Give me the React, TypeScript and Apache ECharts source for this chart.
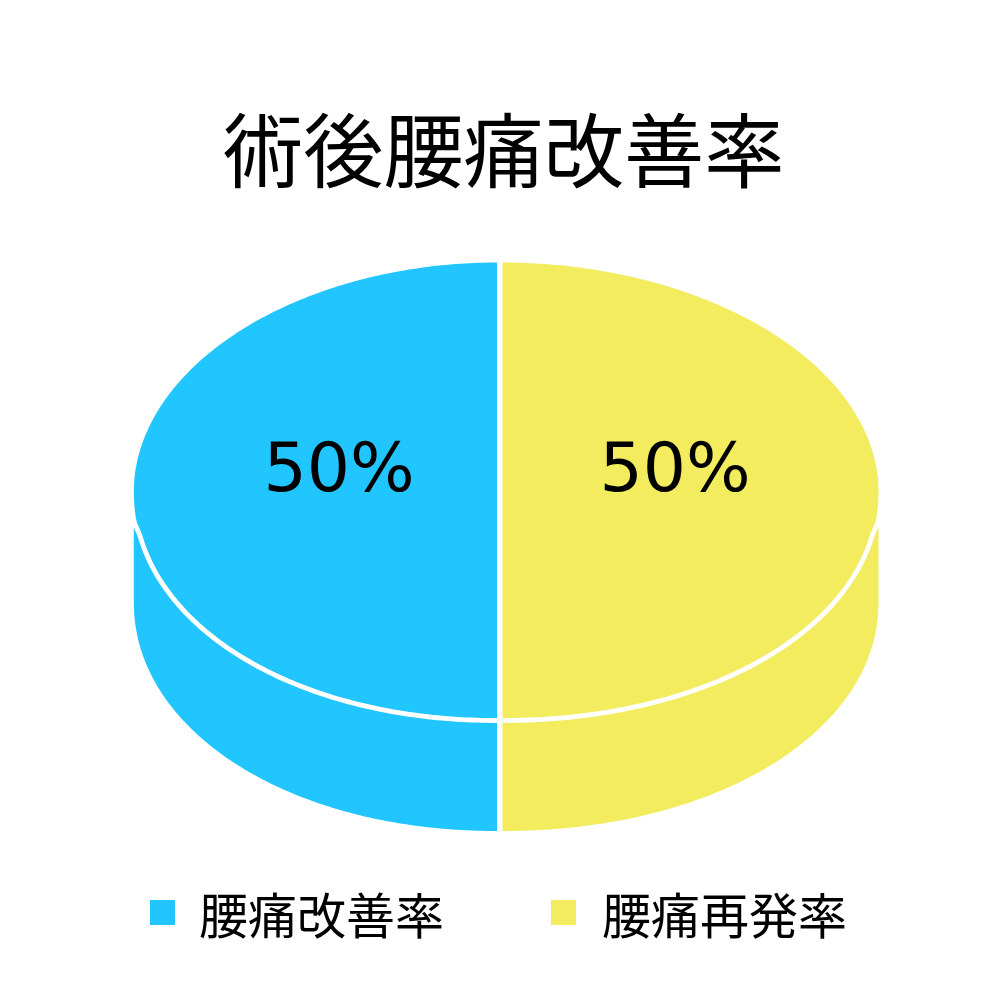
import React, { useEffect, useRef } from "react";
import * as echarts from "echarts";

const titleText = "術後腰痛改善率";
const sliceNames = ["腰痛改善率", "腰痛再発率"];
const sliceValues = [50, 50];
const sliceColors = ["#21C5FF", "#F2EC5E"];
const labelTexts = ["50%", "50%"];

const total = sliceValues.reduce((a, b) => a + b, 0);
const centerY = 491.5;
const radiusY = 229;
const depth = 110.5;
const upperExponent = 1.98;
const lowerExponent = 2.05;
const wallStartOffset = 42;
const cornerOffset = 30;
// per slice: apex x, horizontal radius, label x
const apexX = [497, 502.5];
const radiusX = [363.2, 376];
const labelX = [339, 675];
const labelY = 467.5;

function arcPoints(i: number, startDeg: number, sweepDeg: number, dy: number) {
  const pts: number[][] = [];
  const n = 240;
  for (let k = 0; k <= n; k++) {
    const t = ((startDeg + (sweepDeg * k) / n) * Math.PI) / 180;
    const c = Math.cos(t);
    const s = Math.sin(t);
    const e = 2 / (s > 0 ? lowerExponent : upperExponent);
    pts.push([
      apexX[i] + radiusX[i] * Math.sign(c) * Math.pow(Math.abs(c), e),
      centerY + dy + radiusY * Math.sign(s) * Math.pow(Math.abs(s), e),
    ]);
  }
  return pts;
}

function makeRender(i: number, startDeg: number, sign: number) {
  return (_p: any, api: any) => {
    const sweep = sign * (api.value(0) / total) * 360;
    const top = arcPoints(i, startDeg, sweep, 0);
    const bottom = arcPoints(i, startDeg, sweep, depth);
    const color = sliceColors[i];
    const edgeX = apexX[i] + sign * radiusX[i];
    const corner = [edgeX, centerY + cornerOffset];
    const rim = [corner, ...top.filter((p) => p[1] > centerY + wallStartOffset)];
    const frontBottom = bottom.filter((p) => p[1] >= centerY + depth);
    const wall = [...rim, ...frontBottom.slice().reverse()];
    return {
      type: "group",
      children: [
        { type: "polygon", shape: { points: wall }, style: { fill: color } },
        {
          type: "polygon",
          shape: { points: [[apexX[i], centerY], ...top] },
          style: { fill: color },
        },
        {
          type: "polyline",
          shape: { points: rim },
          style: { stroke: "#ffffff", lineWidth: 4.8, fill: "none" },
        },
        {
          type: "text",
          style: {
            x: labelX[i],
            y: labelY,
            text: labelTexts[i],
            fill: "#000000",
            font: '68px "DejaVu Sans"',
            textAlign: "center",
            textVerticalAlign: "middle",
          },
        },
      ],
    };
  };
}

export default function App() {
  const ref = useRef<HTMLDivElement>(null);
  useEffect(() => {
    const chart = echarts.init(ref.current!, undefined, { renderer: "svg" });
    const font = '"Noto Sans CJK JP"';
    const legendBase = {
      top: 888,
      padding: 0,
      icon: "rect",
      itemWidth: 25,
      itemHeight: 25,
      selectedMode: false,
    };
    chart.setOption({
      animation: false,
      backgroundColor: "#ffffff",
      title: {
        text: titleText,
        left: 223,
        top: 99,
        padding: 0,
        textStyle: { fontFamily: font, fontSize: 80.2, fontWeight: "normal", color: "#000000", lineHeight: 94 },
      },
      legend: [
        {
          ...legendBase,
          data: [sliceNames[0]],
          left: 150,
          textStyle: { fontFamily: font, fontSize: 49, color: "#000000", padding: [0, 0, 0, 19] },
        },
        {
          ...legendBase,
          data: [sliceNames[1]],
          left: 551,
          textStyle: { fontFamily: font, fontSize: 49, color: "#000000", padding: [0, 0, 0, 21] },
        },
      ],
      series: [
        {
          type: "custom",
          name: sliceNames[0],
          coordinateSystem: "none",
          itemStyle: { color: sliceColors[0] },
          data: [[sliceValues[0]]],
          renderItem: makeRender(0, -90, -1),
          silent: true,
        },
        {
          type: "custom",
          name: sliceNames[1],
          coordinateSystem: "none",
          itemStyle: { color: sliceColors[1] },
          data: [[sliceValues[1]]],
          renderItem: makeRender(1, -90, 1),
          silent: true,
        },
      ],
    });
    return () => chart.dispose();
  }, []);
  return <div ref={ref} style={{ position: "absolute", left: 0, top: 0, width: 1000, height: 1000 }} />;
}
